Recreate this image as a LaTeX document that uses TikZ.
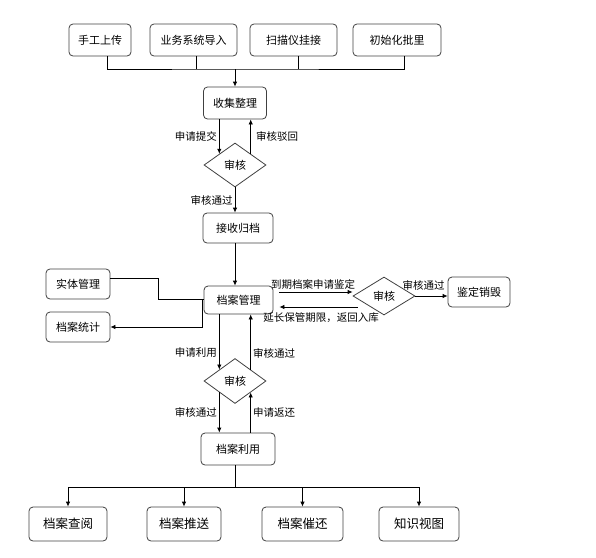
\documentclass[tikz,border=0pt]{standalone}
\usepackage{fontspec}
\setmainfont{Noto Sans CJK SC}
\usetikzlibrary{shapes.geometric,arrows.meta}

\tikzset{
  caja/.style={draw=black!75, rounded corners=4pt, minimum height=30pt, inner sep=2pt,
    font=\fontsize{11}{13}\selectfont},
  rombo/.style={diamond, draw=black!75, inner sep=0pt, minimum width=62pt, minimum height=44pt,
    font=\fontsize{11}{13}\selectfont},
  flecha/.style={-{Latex[length=5pt,width=4.5pt]}},
  etiq/.style={font=\fontsize{10.5}{12}\selectfont, inner sep=2pt}
}

\begin{document}
\begin{tikzpicture}[x=1pt,y=-1pt,line width=0.8pt]
    \useasboundingbox (0,0) rectangle (596,557);

    % Fuentes de entrada
    \node[caja,minimum width=62pt,minimum height=32pt] (manual) at (100,40) {手工上传};
    \node[caja,minimum width=87pt,minimum height=32pt] (sistema) at (193.5,40) {业务系统导入};
    \node[caja,minimum width=87pt,minimum height=32pt] (escaner) at (293.5,40) {扫描仪挂接};
    \node[caja,minimum width=88pt,minimum height=32pt] (lote) at (397,40) {初始化批里};

    % Colector superior
    \coordinate (bus) at (235,69);
    \draw ([xshift=7pt]manual.south) |- (bus) -| ([xshift=7pt]lote.south);
    \foreach \n/\d in {sistema/2.5pt,escaner/4.5pt} {
        \draw ([xshift=\d]\n.south) -- ([xshift=\d]\n.south |- bus);
    }

    % Recogida y primera revisión
    \node[caja,minimum width=63pt,minimum height=32pt] (recoger) at (235,103) {收集整理};
    \draw[flecha] (bus) -- (recoger.north);
    \node[rombo] (rev1) at (235,165) {审核};
    \draw[flecha] (recoger.south -| rev1.north west) -- node[etiq,left]{申请提交} (rev1.north west);
    \draw[flecha] (rev1.north east) -- node[etiq,right,xshift=3pt]{审核驳回} (rev1.north east |- recoger.south);

    % Archivo
    \node[caja,minimum width=70pt] (recibir) at (238,228) {接收归档};
    \draw[flecha] (rev1.south) -- node[etiq,left]{审核通过} (rev1.south |- recibir.north);
    \node[caja,minimum width=69pt,minimum height=28pt] (gestion) at (238.5,300) {档案管理};
    \draw[flecha] (recibir.south -| bus) -- (gestion.north -| bus);

    % Gestión lateral
    \node[caja,minimum width=64pt] (entidad) at (78,284) {实体管理};
    \node[caja,minimum width=64pt] (estad) at (78,327) {档案统计};
    \draw ([yshift=6pt]entidad.east) -- ++(48,0) |- ([yshift=1pt]gestion.west);
    \draw[flecha] ([xshift=-1pt]gestion.west) |- (estad.east);

    % Valoración
    \node[rombo,minimum height=38pt] (rev3) at (384,296) {审核};
    \node[caja,minimum width=62pt] (destruir) at (479,292) {鉴定销毁};
    \draw[flecha,shorten <=6pt] ([yshift=8pt]gestion.east) -- node[etiq,above]{到期档案申请鉴定} ([yshift=8pt]gestion.east -| rev3.west);
    \draw[flecha] (rev3.east) -- node[etiq,above=3pt,xshift=-8pt]{审核通过} (rev3.east -| destruir.west);
    \draw[flecha,shorten >=6pt,shorten <=-5pt] ([yshift=-7pt]gestion.east -| rev3.west) -- node[etiq,below=3pt,xshift=8pt]{延长保管期限，返回入库} ([yshift=-7pt]gestion.east);

    % Préstamo
    \node[rombo,minimum height=45pt] (rev2) at (235,381) {审核};
    \node[caja,minimum width=74pt,minimum height=32pt] (uso) at (238,449) {档案利用};
    \draw[flecha] (gestion.south -| rev2.north west) -- node[etiq,left,pos=0.7]{申请利用} (rev2.north west);
    \draw[flecha] (rev2.north east) -- node[etiq,right,pos=0.3]{审核通过} (rev2.north east |- gestion.south);
    \draw[flecha] (rev2.south west) -- node[etiq,left]{审核通过} (rev2.south west |- uso.north);
    \draw[flecha] (uso.north -| rev2.south east) -- node[etiq,right]{申请返还} (rev2.south east);

    % Salidas
    \node[caja,font=\fontsize{12.5}{14}\selectfont,minimum width=78pt,minimum height=34pt] (consulta) at (68,524) {档案查阅};
    \node[caja,font=\fontsize{12.5}{14}\selectfont,minimum width=74pt,minimum height=34pt] (envio) at (184,524) {档案推送};
    \node[caja,font=\fontsize{12.5}{14}\selectfont,minimum width=81pt,minimum height=34pt] (recordar) at (302.5,524) {档案催还};
    \node[caja,font=\fontsize{12.5}{14}\selectfont,minimum width=80pt,minimum height=34pt] (conocimiento) at (419,524) {知识视图};
    \coordinate (bus2) at (235,487);
    \draw (uso.south -| bus2) -- (bus2);
    \draw (consulta.north |- bus2) -- (conocimiento.north |- bus2);
    \foreach \n in {consulta,envio,recordar,conocimiento} {
        \draw[flecha] (\n.north |- bus2) -- (\n.north);
    }
\end{tikzpicture}
\end{document}
